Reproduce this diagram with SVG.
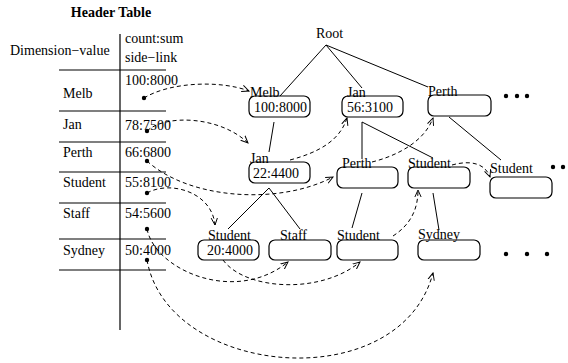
<svg xmlns="http://www.w3.org/2000/svg" width="568" height="363" viewBox="0 0 568 363">
<style>
text{font-family:'Liberation Serif','DejaVu Serif',serif;font-size:14px;fill:#000}
.b{font-weight:bold}
.box{fill:#fff;stroke:#000;stroke-width:1.2}
.tree{stroke:#000;stroke-width:1;fill:none}
.grid{stroke:#000;stroke-width:1.2;fill:none}
.link{stroke:#000;stroke-width:1;fill:none;stroke-dasharray:4,3;marker-end:url(#ah)}
.dot{fill:#000}
</style>
<defs>
<marker id="ah" viewBox="0 0 10 10" refX="9" refY="5" markerWidth="8" markerHeight="8" markerUnits="userSpaceOnUse" orient="auto">
<path d="M0,1 L9,5 L0,9" fill="none" stroke="#000" stroke-width="1.2"/>
</marker>
</defs>
<g font-family="Liberation Serif, DejaVu Serif, serif">
<g id="header-table">
<text class="b" x="111" y="17" text-anchor="middle">Header Table</text>
<text x="10" y="55">Dimension−value</text>
<text x="125" y="43">count:sum</text>
<text x="125" y="62">side−link</text>
<path class="grid" d="M120,34 V330 M59,70 H166 M59,111 H166 M59,142 H166 M59,172 H166 M59,203 H166 M59,239 H166 M59,270 H166"/>
<text x="63" y="98">Melb</text>
<text x="63" y="129">Jan</text>
<text x="63" y="157">Perth</text>
<text x="63" y="187">Student</text>
<text x="63" y="218">Staff</text>
<text x="63" y="255">Sydney</text>
<text x="125" y="85">100:8000</text>
<text x="125" y="130">78:7500</text>
<text x="125" y="157">66:6800</text>
<text x="125" y="187">55:8100</text>
<text x="125" y="218">54:5600</text>
<text x="125" y="255">50:4000</text>
<circle class="dot" cx="144" cy="98" r="2.2"/>
<circle class="dot" cx="147" cy="131" r="2.2"/>
<circle class="dot" cx="147" cy="161" r="2.2"/>
<circle class="dot" cx="147" cy="193" r="2.2"/>
<circle class="dot" cx="147" cy="229" r="2.2"/>
<circle class="dot" cx="147" cy="260" r="2.2"/>
</g>
<g id="tree-edges">
<path class="tree" d="M326,45 L280,96 M326,45 L362,88 M326,45 L428,87 M274,122 L269,152 M362,122 L362,159 M362,122 L433,158 M449,117 L501,160 M269,188 L228,229 M269,188 L300,229 M362,193 L352,228 M433,193 L439,230"/>
</g>
<g id="root"><text x="316" y="38">Root</text></g>
<g id="n-melb"><rect class="box" x="249" y="96" width="61" height="21" rx="6"/><text x="250" y="97">Melb</text><text x="254" y="112">100:8000</text></g>
<g id="n-jan1"><rect class="box" x="342" y="96" width="61" height="21" rx="6"/><text x="347" y="97">Jan</text><text x="347" y="112">56:3100</text></g>
<g id="n-perth1"><rect class="box" x="428" y="95" width="63" height="21" rx="6"/><text x="428" y="96">Perth</text></g>
<g id="dots1"><circle class="dot" cx="506" cy="96" r="2.2"/><circle class="dot" cx="517" cy="96" r="2.2"/><circle class="dot" cx="527" cy="96" r="2.2"/></g>
<g id="n-jan2"><rect class="box" x="249" y="162" width="61" height="21" rx="6"/><text x="250" y="163">Jan</text><text x="253" y="178">22:4400</text></g>
<g id="n-perth2"><rect class="box" x="337" y="167" width="61" height="21" rx="6"/><text x="342" y="168">Perth</text></g>
<g id="n-student2"><rect class="box" x="408" y="167" width="62" height="21" rx="6"/><text x="408" y="168">Student</text></g>
<g id="n-student2b"><rect class="box" x="490" y="177" width="62" height="21" rx="6"/><text x="490" y="173">Student</text></g>
<g id="dots2"><circle class="dot" cx="553" cy="167" r="2.2"/><circle class="dot" cx="563" cy="167" r="2.2"/></g>
<g id="n-student3"><rect class="box" x="198" y="240" width="61" height="20" rx="6"/><text x="208" y="240">Student</text><text x="207" y="255">20:4000</text></g>
<g id="n-staff3"><rect class="box" x="269" y="240" width="62" height="20" rx="6"/><text x="280" y="240">Staff</text></g>
<g id="n-student3b"><rect class="box" x="337" y="240" width="61" height="20" rx="6"/><text x="337" y="240">Student</text></g>
<g id="n-sydney3"><rect class="box" x="418" y="240" width="62" height="20" rx="6"/><text x="418" y="239">Sydney</text></g>
<g id="dots3"><circle class="dot" cx="506" cy="254" r="2.2"/><circle class="dot" cx="527" cy="254" r="2.2"/><circle class="dot" cx="547" cy="254" r="2.2"/></g>
<g id="side-links">
<path class="link" d="M144,98 C170,82 220,80 249,91"/>
<path class="link" d="M147,131 C165,114 220,116 248,143"/>
<path class="link" d="M147,161 C190,200 280,205 333,177"/>
<path class="link" d="M147,193 C170,180 212,192 215,225"/>
<path class="link" d="M147,229 C155,270 235,305 288,262"/>
<path class="link" d="M223,260 C245,290 320,295 360,262"/>
<path class="link" d="M147,260 C168,378 400,398 433,273"/>
<path class="link" d="M290,160 C320,152 340,140 347,118"/>
<path class="link" d="M372,162 C400,155 425,140 433,118"/>
<path class="link" d="M452,165 C470,160 485,163 490,177"/>
<path class="link" d="M393,236 C410,225 418,210 418,190"/>
</g>
</g>
</svg>
